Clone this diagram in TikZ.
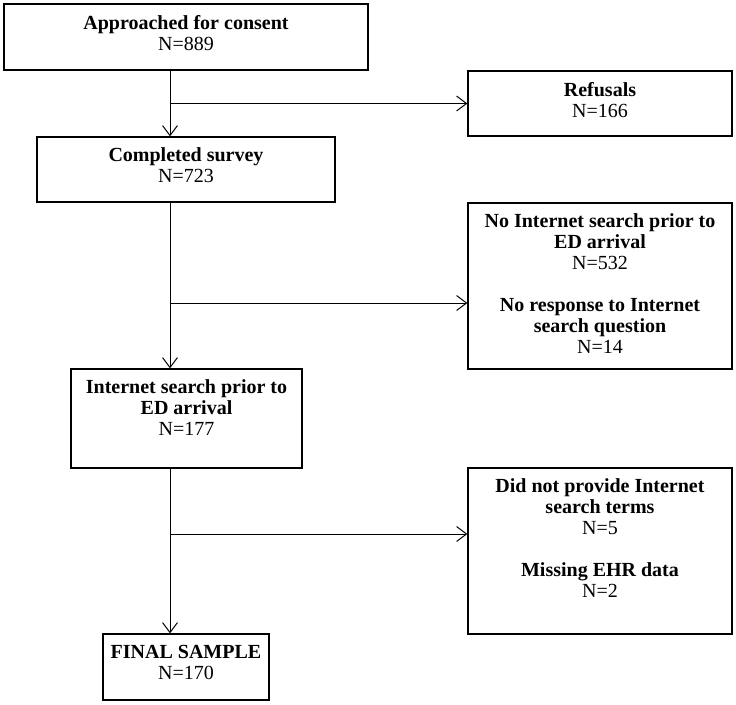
\documentclass[tikz,border=0pt]{standalone}
\usepackage{fontspec}
\setmainfont{Liberation Serif}
\usetikzlibrary{arrows.meta, positioning, calc}

% box contents: width, height, text (set from the top)
\newcommand{\flowtext}[3]{\parbox[c][#2pt][t]{#1pt}{\centering\vspace*{11pt}#3}}

\begin{document}
\begin{tikzpicture}[x=1pt, y=-1pt,
    every node/.style={font=\fontsize{20}{21}\selectfont},
    flowbox/.style={draw, line width=1.2pt, inner sep=0pt},
    flowarrow/.style={line width=1pt, -{Straight Barb[length=10pt, width=15pt]}}]

  \useasboundingbox (0,0) rectangle (736,704);

  % --- Main column -------------------------------------------------
  \node[flowbox] (approached) at (186,37)
    {\flowtext{364}{66}{\textbf{Approached for consent}\\N=889}};
  \node[flowbox] (completed) at (186,169.5)
    {\flowtext{298}{65}{\textbf{Completed survey}\\N=723}};
  \node[flowbox] (search) at (186.5,418.5)
    {\flowtext{231}{99}{\textbf{Internet search prior to\\ED arrival}\\N=177}};
  \node[flowbox] (final) at (186,667)
    {\flowtext{166}{66}{\textbf{FINAL SAMPLE}\\N=170}};

  % --- Exclusions --------------------------------------------------
  \node[flowbox] (refusals) at (600,103.5)
    {\flowtext{264}{65}{\textbf{Refusals}\\N=166}};
  \node[flowbox] (nosearch) at (600,286)
    {\flowtext{264}{166}{\textbf{No Internet search prior to\\ED arrival}\\N=532\\[21pt]
      \textbf{No response to Internet\\search question}\\N=14}};
  \node[flowbox] (excluded) at (600,551)
    {\flowtext{264}{166}{\textbf{Did not provide Internet\\search terms}\\N=5\\[21pt]
      \textbf{Missing EHR data}\\N=2}};

  % Trunk and branch points
  \coordinate (trunk) at (170,0);
  \coordinate (split1) at (170,103.5);
  \coordinate (split2) at (170,303);
  \coordinate (split3) at (170,534);

  % Arrows down
  \draw[flowarrow] (approached.south -| trunk) -- (completed.north -| trunk);
  \draw[flowarrow] (completed.south -| trunk) -- (search.north -| trunk);
  \draw[flowarrow] (search.south -| trunk) -- (final.north -| trunk);

  % Arrows right
  \draw[flowarrow] (split1) -- (split1 -| refusals.west);
  \draw[flowarrow] (split2) -- (split2 -| nosearch.west);
  \draw[flowarrow] (split3) -- (split3 -| excluded.west);
\end{tikzpicture}
\end{document}
